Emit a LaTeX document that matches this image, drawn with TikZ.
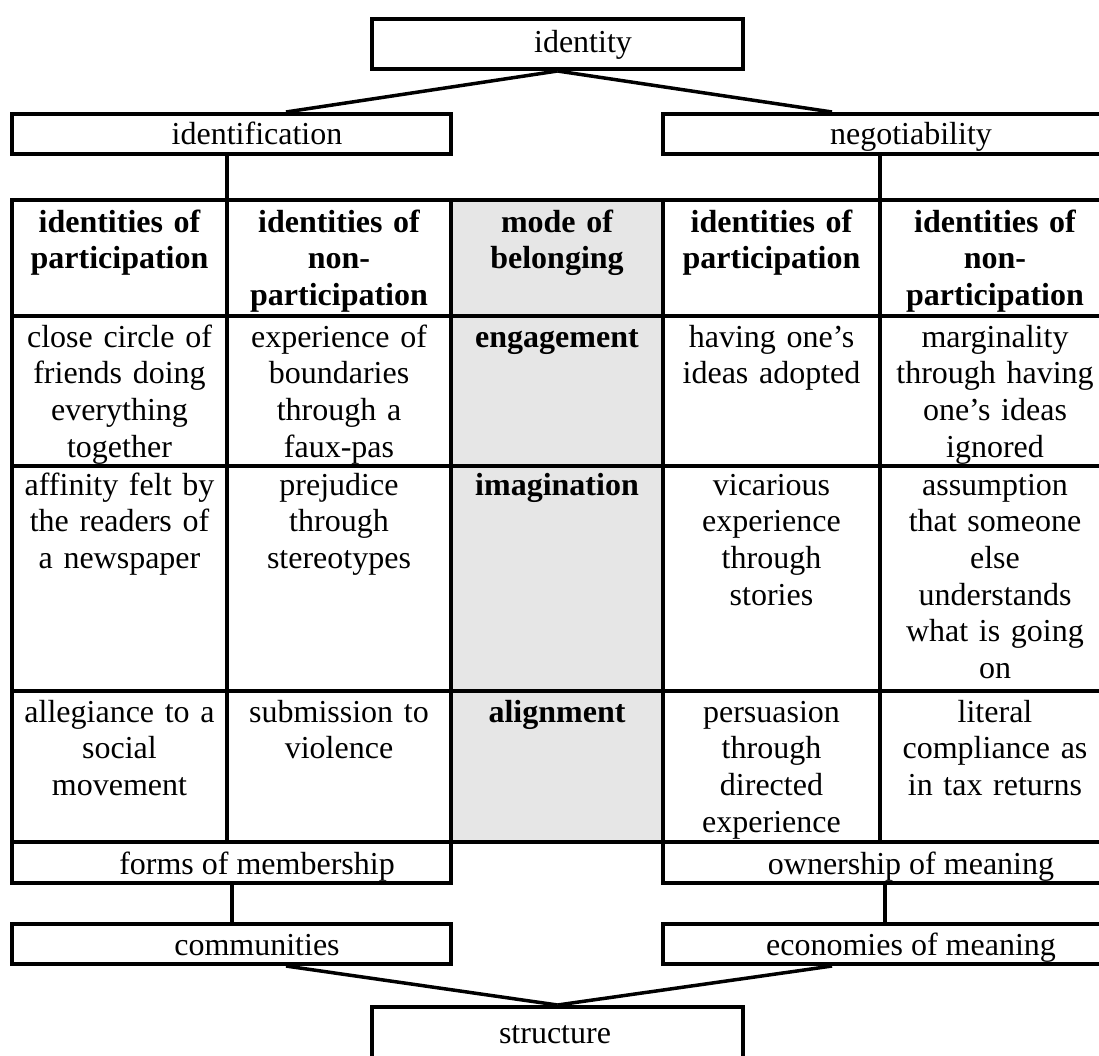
\documentclass[tikz,border=0pt]{standalone}
\usepackage{fontspec}
\setmainfont{Liberation Serif}
\usetikzlibrary{calc}
\definecolor{colgrey}{HTML}{E6E6E6}
\newcommand\cellfont{\fontsize{32pt}{36.7pt}\selectfont}
\begin{document}
\begin{tikzpicture}[x=1pt,y=-1pt,
  frame/.style={draw, line width=4pt, rectangle, inner sep=0pt, minimum height=40pt},
  boxtext/.style={anchor=base, inner sep=0pt, font=\cellfont},
  cell/.style={anchor=base, inner sep=0pt, text width=210pt, align=center, font=\cellfont},
  head/.style={cell, font=\cellfont\bfseries},
  link/.style={line width=3.5pt},
  vlink/.style={line width=4pt},
  gridline/.style={line width=4pt}
]
\useasboundingbox (0,0) rectangle (1099,1055);

% table background and grid
\fill[colgrey] (451,200) rectangle (663,842);
\draw[gridline] (12,200) rectangle (1110,842);
\foreach \yy in {316,466,691} \draw[gridline] (12,\yy) -- (1110,\yy);
\foreach \xx in {227,451,663,880} \draw[gridline] (\xx,200) -- (\xx,842);
\coordinate (tl2) at (227,200);
\coordinate (tl5) at (880,200);

% boxes
\node[frame, minimum width=371pt, minimum height=50pt] (identity) at (557.5,44) {};
\node[boxtext] (identity-t) at (583,52) {identity};
\node[frame, minimum width=439pt] (identification) at (231.5,134) {};
\node[boxtext] (identification-t) at (257,144) {identification};
\node[frame, minimum width=444pt] (negotiability) at (885,134) {};
\node[boxtext] (negotiability-t) at (911,144) {negotiability};

\node[frame, minimum width=439pt, minimum height=41pt] (forms) at (231.5,862.5) {};
\node[boxtext] (forms-t) at (257,874) {forms of membership};
\node[frame, minimum width=444pt, minimum height=41pt] (ownership) at (885,862.5) {};
\node[boxtext] (ownership-t) at (911,874) {ownership of meaning};
\node[frame, minimum width=439pt] (communities) at (231.5,944) {};
\node[boxtext] (communities-t) at (257,955) {communities};
\node[frame, minimum width=444pt] (economies) at (885,944) {};
\node[boxtext] (economies-t) at (911,955) {economies of meaning};
\node[frame, minimum width=371pt, minimum height=80pt] (structure) at (557.5,1047) {};
\node[boxtext] (structure-t) at (555,1043) {structure};

% connectors
\draw[link] (identity.south) -- ([xshift=54.5pt]identification.north);
\draw[link] (identity.south) -- ([xshift=-53pt]negotiability.north);
\draw[vlink] (identification.south -| tl2) -- (tl2);
\draw[vlink] (negotiability.south -| tl5) -- (tl5);
\draw[vlink] (forms.south) -- (communities.north);
\draw[vlink] (ownership.south) -- (economies.north);
\draw[link] ([xshift=54.5pt]communities.south) -- (structure.north);
\draw[link] ([xshift=-53pt]economies.south) -- (structure.north);

% header row
\node[head] (h1) at (119.5,232) {identities of\\participation};
\node[head] (h2) at (339,232) {identities of\\non-\\participation};
\node[head] (h3) at (557,232) {mode of\\belonging};
\node[head] (h4) at (771.5,232) {identities of\\participation};
\node[head] (h5) at (995,232) {identities of\\non-\\participation};

% row 1
\node[cell] (r1c1) at (119.5,347) {close circle of\\friends doing\\everything\\together};
\node[cell] (r1c2) at (339,347) {experience of\\boundaries\\through a\\faux-pas};
\node[head] (r1c3) at (557,347) {engagement};
\node[cell] (r1c4) at (771.5,347) {having one’s\\ideas adopted};
\node[cell] (r1c5) at (995,347) {marginality\\through having\\one’s ideas\\ignored};

% row 2
\node[cell] (r2c1) at (119.5,495) {affinity felt by\\the readers of\\a newspaper};
\node[cell] (r2c2) at (339,495) {prejudice\\through\\stereotypes};
\node[head] (r2c3) at (557,495) {imagination};
\node[cell] (r2c4) at (771.5,495) {vicarious\\experience\\through\\stories};
\node[cell] (r2c5) at (995,495) {assumption\\that someone\\else\\understands\\what is going\\on};

% row 3
\node[cell] (r3c1) at (119.5,722) {allegiance to a\\social\\movement};
\node[cell] (r3c2) at (339,722) {submission to\\violence};
\node[head] (r3c3) at (557,722) {alignment};
\node[cell] (r3c4) at (771.5,722) {persuasion\\through\\directed\\experience};
\node[cell] (r3c5) at (995,722) {literal\\compliance as\\in tax returns};
\end{tikzpicture}
\end{document}
